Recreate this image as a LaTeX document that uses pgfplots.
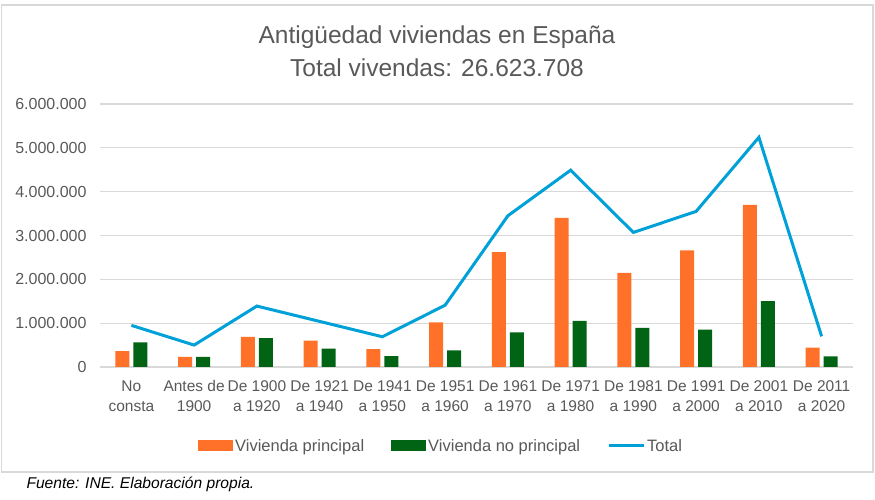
\documentclass[border=0pt]{standalone}
\usepackage{fontspec}
\setmainfont{Liberation Sans}
\usepackage{pgfplots}
\pgfplotsset{compat=1.18}
\definecolor{txt}{HTML}{595959}
\definecolor{gridc}{HTML}{D9D9D9}
\definecolor{orng}{HTML}{FF7128}
\definecolor{grn}{HTML}{006414}
\definecolor{blu}{HTML}{00A0D8}
\begin{document}
\begin{tikzpicture}[x=1pt,y=1pt]
\path[use as bounding box] (0,0) rectangle (875,500);
\draw[gridc, line width=1.2pt] (1.5,28) rectangle (873,495);
\node[text=txt, font=\fontsize{24.5}{28}\selectfont] at (437,463) {Antigüedad viviendas en España};
\node[text=txt, font=\fontsize{24.5}{28}\selectfont] at (437,432) {Total vivendas: 26.623.708};
\begin{axis}[
  at={(100pt,133pt)}, anchor=south west,
  width=753pt, height=263pt, scale only axis,
  xmin=-0.5, xmax=11.5, ymin=0, ymax=6000000,
  axis line style={draw=none},
  tick style={draw=none},
  ymajorgrids, grid style={gridc, line width=1.1pt},
  ytick={0,1000000,2000000,3000000,4000000,5000000,6000000},
  scaled y ticks=false,
  /pgf/number format/fixed,
  /pgf/number format/1000 sep={.},
  /pgf/number format/assume math mode=true,
  yticklabel style={text=txt, font=\fontsize{16}{18}\selectfont, xshift=-10pt},
  xtick={0,1,2,3,4,5,6,7,8,9,10,11},
  xticklabels={{No\\consta},{Antes de\\1900},{De 1900\\a 1920},{De 1921\\a 1940},{De 1941\\a 1950},{De 1951\\a 1960},{De 1961\\a 1970},{De 1971\\a 1980},{De 1981\\a 1990},{De 1991\\a 2000},{De 2001\\a 2010},{De 2011\\a 2020}},
  xticklabel style={align=center, text=txt, font=\fontsize{15.5}{20}\selectfont, yshift=-10pt},
  legend style={at={(0.453,-0.30)}, anchor=center, draw=none, legend columns=3,
    font=\fontsize{16.5}{19}\selectfont, text=txt,
    /tikz/every even column/.append style={column sep=25pt}},
  legend cell align=left,
]
\addplot[ybar, bar width=14pt, bar shift=-9pt, fill=orng, draw=none,
  legend image code/.code={\fill[orng] (0pt,-5.5pt) rectangle (35pt,5.5pt);}]
  coordinates {(0,360000) (1,230000) (2,690000) (3,600000) (4,410000) (5,1020000) (6,2620000) (7,3400000) (8,2150000) (9,2660000) (10,3700000) (11,440000)};
\addlegendentry{Vivienda principal}
\addplot[ybar, bar width=14pt, bar shift=9pt, fill=grn, draw=none,
  legend image code/.code={\fill[grn] (0pt,-5.5pt) rectangle (35pt,5.5pt);}]
  coordinates {(0,560000) (1,230000) (2,660000) (3,420000) (4,250000) (5,380000) (6,790000) (7,1050000) (8,890000) (9,850000) (10,1500000) (11,240000)};
\addlegendentry{Vivienda no principal}
\addplot[blu, line width=3pt, sharp plot, mark=none,
  legend image code/.code={\draw[blu, line width=3pt] (0pt,0pt) -- (35pt,0pt);}]
  coordinates {(0,950000) (1,500000) (2,1390000) (3,1040000) (4,690000) (5,1410000) (6,3450000) (7,4490000) (8,3070000) (9,3550000) (10,5240000) (11,700000)};
\addlegendentry{Total}
\end{axis}
\node[anchor=west, font=\itshape\fontsize{15.6}{18}\selectfont] at (23,16) {Fuente: INE. Elaboración propia.};
\end{tikzpicture}
\end{document}
